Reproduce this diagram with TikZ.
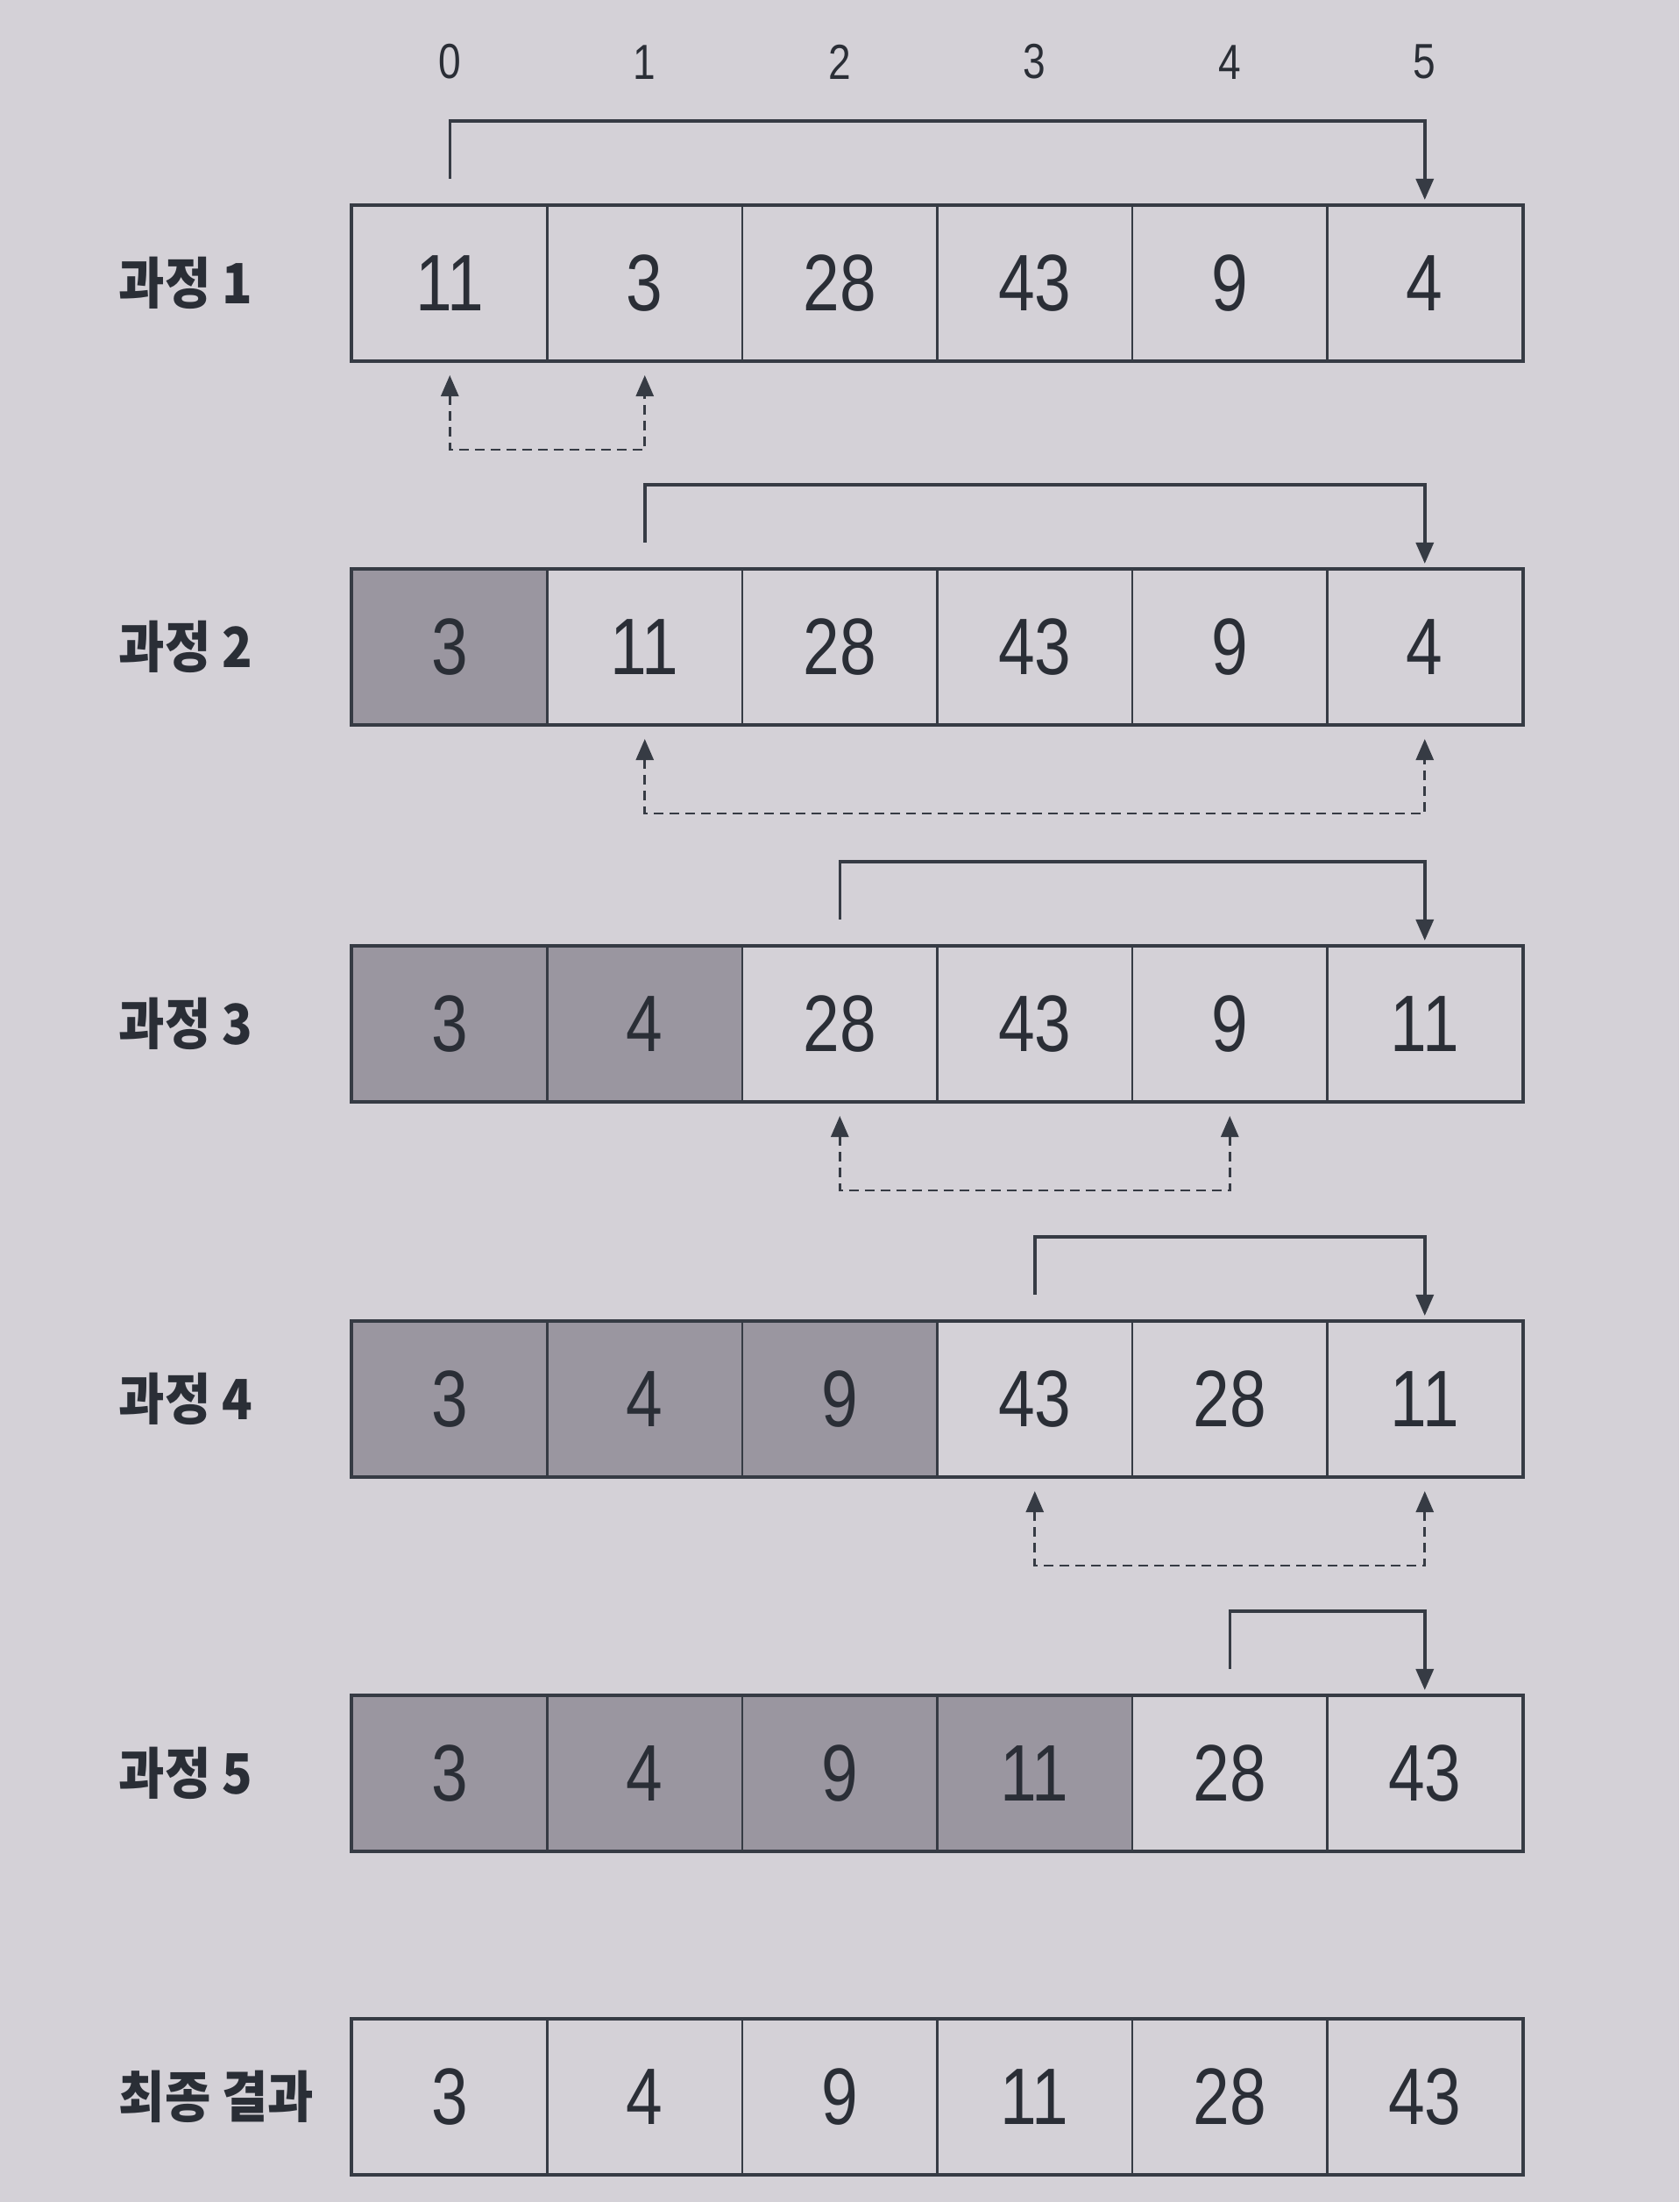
\documentclass[tikz,border=0pt]{standalone}
\usepackage{fontspec}
\setmainfont{Liberation Sans}
\newfontfamily\numfont[FakeStretch=0.82]{Liberation Sans}
\newfontfamily\kofont[FakeStretch=0.9]{Noto Sans CJK KR}
\usepackage{tikz}
\usetikzlibrary{arrows.meta,positioning}
\definecolor{paper}{HTML}{D4D1D7}
\definecolor{donegray}{HTML}{9A96A0}
\definecolor{inkline}{HTML}{363B44}
\definecolor{inktext}{HTML}{2A2E36}

\begin{document}
\begin{tikzpicture}[x=1cm,y=1cm,>={Triangle[length=2.4mm,width=2mm]}]
\tikzstyle{cell}=[draw=inkline,line width=0.6pt,minimum width=2.225cm,minimum height=1.76cm,inner sep=0pt,text=inktext,font=\numfont\fontsize{26}{30}\selectfont]
\tikzstyle{donecell}=[cell,fill=donegray]
\tikzstyle{rowframe}=[draw=inkline,line width=1.3pt]
\tikzstyle{steplabel}=[text=inktext,inner sep=0pt,font=\kofont\bfseries\fontsize{18}{20}\selectfont]
\tikzstyle{idxlabel}=[text=inktext,inner sep=0pt,font=\numfont\fontsize{16}{18}\selectfont]
\tikzstyle{pick}=[draw=inkline,line width=1pt,->]
\tikzstyle{swap}=[draw=inkline,line width=0.8pt,dash pattern=on 1.1mm off 0.7mm,<->]
\newcommand{\sortrow}[5]{%
\foreach \v [count=\c from 0] in {#4} {
  \ifnum\c<#5\relax\def\cellkind{donecell}\else\def\cellkind{cell}\fi
  \node[\cellkind] (r#1c\c) at ({5.1325+2.225*\c},#2) {\v};
}
\draw[rowframe] (r#1c0.north west) rectangle (r#1c5.south east);
\node[steplabel,anchor=west] (lab#1) at (1.35,#2) {#3};
}
\newcommand{\pickarrow}[3]{%
\draw[pick] ([yshift=3mm]r#1c#2.north) -- ++(0,0.66) -| ([yshift=0.6mm]r#1c#3.north);
}
\newcommand{\swaparrow}[3]{%
\draw[swap] ([yshift=-1.6mm]r#1c#2.south) -- ++(0,-0.85) -| ([yshift=-1.6mm]r#1c#3.south);
}
\useasboundingbox[fill=paper] (0,0) rectangle (19.16,-25.12);
\sortrow{1}{-3.23}{과정 1}{11,3,28,43,9,4}{0}
\sortrow{2}{-7.38}{과정 2}{3,11,28,43,9,4}{1}
\sortrow{3}{-11.68}{과정 3}{3,4,28,43,9,11}{2}
\sortrow{4}{-15.96}{과정 4}{3,4,9,43,28,11}{3}
\sortrow{5}{-20.23}{과정 5}{3,4,9,11,28,43}{4}
\sortrow{6}{-23.92}{최종 결과}{3,4,9,11,28,43}{0}
\foreach \i in {0,...,5}
  \node[idxlabel,above=1.43cm of r1c\i] (ix\i) {\i};
\pickarrow{1}{0}{5}
\pickarrow{2}{1}{5}
\pickarrow{3}{2}{5}
\pickarrow{4}{3}{5}
\pickarrow{5}{4}{5}
\swaparrow{1}{0}{1}
\swaparrow{2}{1}{5}
\swaparrow{3}{2}{4}
\swaparrow{4}{3}{5}
\end{tikzpicture}
\end{document}
